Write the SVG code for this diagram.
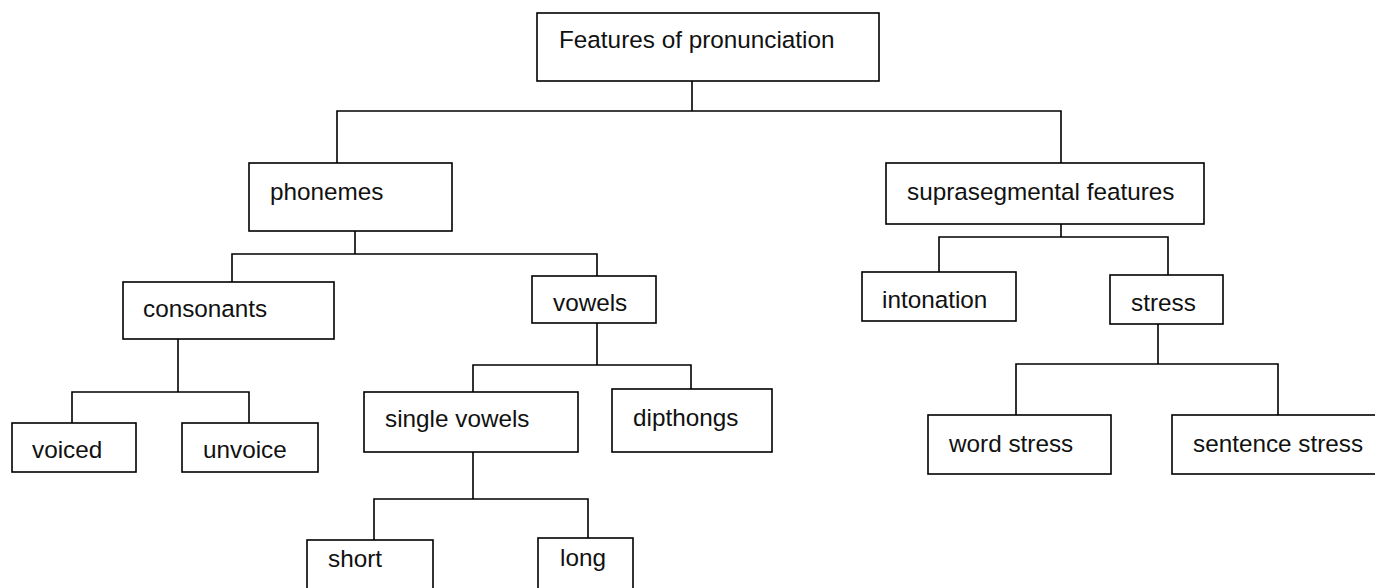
<svg xmlns="http://www.w3.org/2000/svg" width="1375" height="588" viewBox="0 0 1375 588">
<style>
.box{fill:#fff;stroke:#000;stroke-width:1.6}
.lbl{font-family:"Liberation Sans",Arial,sans-serif;font-size:24.3px;fill:#111}
.con{fill:none;stroke:#000;stroke-width:1.6}
</style>
<rect width="1375" height="588" fill="#fff"/>
<g id="connectors" class="con">
<path d="M692,81V111M337,163V111H1061V163"/>
<path d="M355,231V254M232,282V254H597V276"/>
<path d="M178,339V392M72,423V392H249V423"/>
<path d="M597,323V365M473,392V365H691V389"/>
<path d="M473,452V499M374,540V499H588V538"/>
<path d="M1061,224V237M939,272V237H1168V275"/>
<path d="M1158,324V364M1016,415V364H1278V415"/>
</g>
<g id="features"><rect class="box" x="537" y="13" width="342" height="68"/><text class="lbl" x="559" y="48">Features of pronunciation</text></g>
<g id="phonemes"><rect class="box" x="249" y="163" width="203" height="68"/><text class="lbl" x="270" y="200">phonemes</text></g>
<g id="suprasegmental"><rect class="box" x="886" y="163" width="318" height="61"/><text class="lbl" x="907" y="200">suprasegmental features</text></g>
<g id="consonants"><rect class="box" x="123" y="282" width="211" height="57"/><text class="lbl" x="143" y="317">consonants</text></g>
<g id="vowels"><rect class="box" x="532" y="276" width="124" height="47"/><text class="lbl" x="553" y="311">vowels</text></g>
<g id="intonation"><rect class="box" x="862" y="272" width="154" height="49"/><text class="lbl" x="882" y="308">intonation</text></g>
<g id="stress"><rect class="box" x="1110" y="275" width="113" height="49"/><text class="lbl" x="1131" y="311">stress</text></g>
<g id="voiced"><rect class="box" x="12" y="423" width="124" height="49"/><text class="lbl" x="32" y="458">voiced</text></g>
<g id="unvoice"><rect class="box" x="182" y="423" width="136" height="49"/><text class="lbl" x="203" y="458">unvoice</text></g>
<g id="single-vowels"><rect class="box" x="364" y="392" width="214" height="60"/><text class="lbl" x="385" y="427">single vowels</text></g>
<g id="dipthongs"><rect class="box" x="612" y="389" width="160" height="63"/><text class="lbl" x="633" y="426">dipthongs</text></g>
<g id="word-stress"><rect class="box" x="928" y="415" width="183" height="59"/><text class="lbl" x="949" y="452">word stress</text></g>
<g id="sentence-stress"><rect class="box" x="1172" y="415" width="210" height="59"/><text class="lbl" x="1193" y="452">sentence stress</text></g>
<g id="short"><rect class="box" x="307" y="540" width="126" height="60"/><text class="lbl" x="328" y="567">short</text></g>
<g id="long"><rect class="box" x="538" y="538" width="95" height="62"/><text class="lbl" x="560" y="566">long</text></g>
</svg>
